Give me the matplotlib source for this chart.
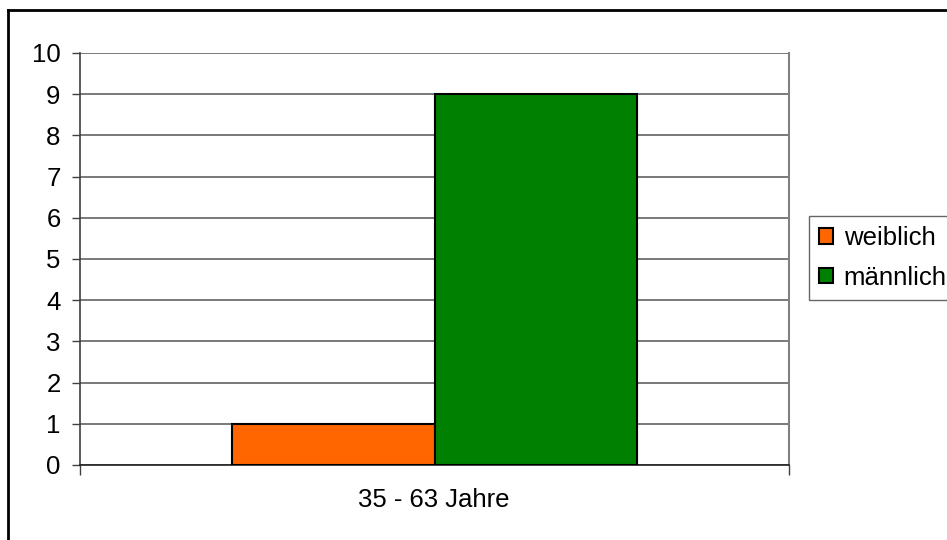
import matplotlib
matplotlib.use("Agg")
import matplotlib.pyplot as plt
from matplotlib.lines import Line2D
import numpy as np

categories = ["35 - 63 Jahre"]
series_names = ["weiblich", "männlich"]
values_weiblich = [1]
values_maennlich = [9]
colors = ["#FF6600", "#008000"]
yticks = list(range(0, 11))

plt.rcParams['font.family'] = ['Liberation Sans', 'DejaVu Sans']
FS = 18.5

fig = plt.figure(figsize=(9.47, 5.4), dpi=100)
ax = fig.add_axes([80/947, 1-465/540, (789-80)/947, (465-53)/540])

x = np.arange(len(categories))
w = 0.285
ax.bar(x - w/2, values_weiblich, width=w, color=colors[0], edgecolor="black", linewidth=1.5, label=series_names[0], zorder=3)
ax.bar(x + w/2, values_maennlich, width=w, color=colors[1], edgecolor="black", linewidth=1.5, label=series_names[1], zorder=3)

ax.set_xlim(-0.5, 0.5)
ax.set_ylim(0, 10)
ax.set_yticks(yticks)
ax.set_yticklabels([str(t) for t in yticks], fontsize=FS)
ax.set_xticks([-0.5, 0.5])
ax.set_xticklabels([])
ax.tick_params(axis='x', length=7, color="#404040", width=1)
ax.tick_params(axis='y', length=6, color="#404040", width=1, pad=8)
ax.yaxis.grid(True, color="#555555", linewidth=1.1, zorder=0)
ax.set_axisbelow(True)
ax.spines['left'].set_color("#404040")
ax.spines['left'].set_linewidth(1.2)
ax.spines['bottom'].set_color("#202020")
ax.spines['bottom'].set_linewidth(1.2)
ax.spines['right'].set_color("#808080")
ax.spines['right'].set_linewidth(1.5)
ax.spines['top'].set_visible(False)

fig.text(434/947, 1-500/540, categories[0], ha='center', va='center', fontsize=FS)

leg = ax.legend(loc='center left', bbox_to_anchor=(809/947, 1-258/540), bbox_transform=fig.transFigure,
                fontsize=FS, frameon=True, fancybox=False, edgecolor="#404040",
                handlelength=0.55, handleheight=0.55, handletextpad=0.4, borderpad=0.4, labelspacing=0.6,
                borderaxespad=0)
leg.get_frame().set_linewidth(1.0)

# outer chart border (left and top visible)
fig.add_artist(Line2D([8/947, 8/947], [-0.01, 1-10/540], transform=fig.transFigure, color="black", linewidth=2))
fig.add_artist(Line2D([8/947, 1.01], [1-10/540, 1-10/540], transform=fig.transFigure, color="black", linewidth=2))

fig.savefig("out.png", dpi=100)
